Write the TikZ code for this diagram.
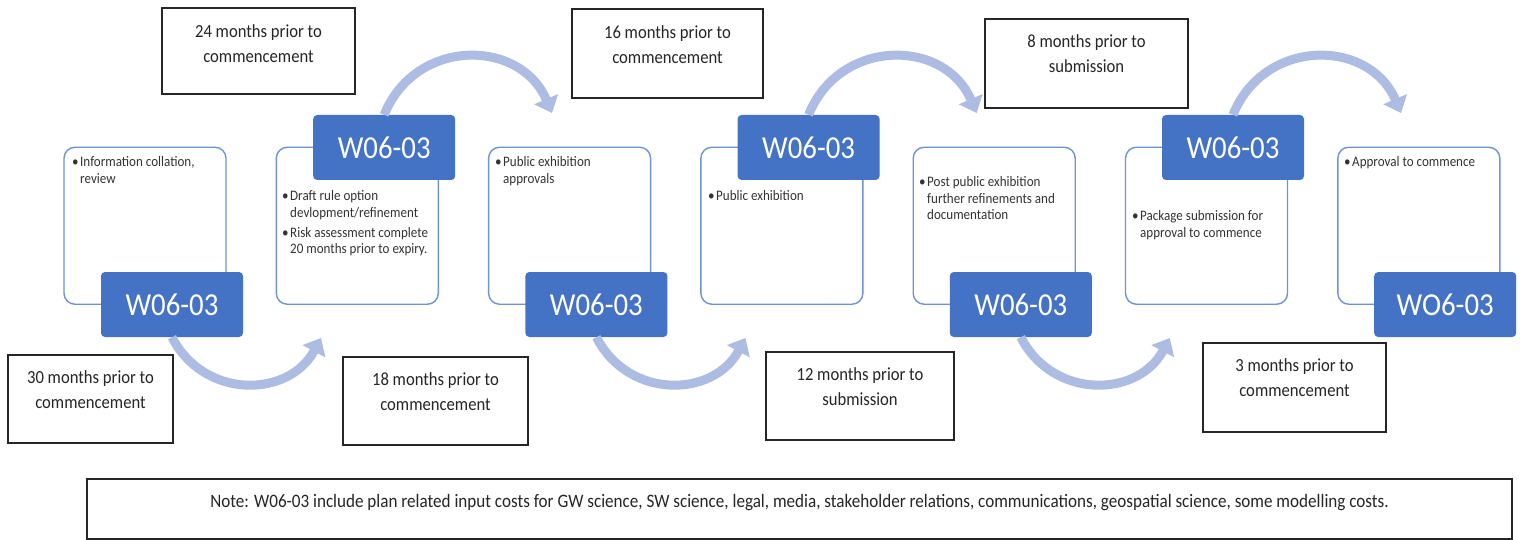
\documentclass[tikz,border=0pt]{standalone}
\usepackage{fontspec}
\setmainfont{Carlito}[FakeStretch=0.9]
\usetikzlibrary{arrows.meta}
\definecolor{wblue}{HTML}{4472C4}
\definecolor{pborder}{HTML}{6F93D3}
\definecolor{arcc}{RGB}{172,188,226}
\definecolor{txtc}{HTML}{333333}
\newcommand{\mytopbox}[4]{\parbox[c][#1][t]{#2}{\centering\vspace*{#3}#4}}
\newcommand{\bul}{\textbullet}
\begin{document}
\begin{tikzpicture}[x=1pt,y=-1pt,
  panel/.style={draw=pborder, line width=1.4pt, fill=white, rounded corners=11pt,
    minimum width=162pt, minimum height=157pt, inner sep=0pt},
  wbox/.style={fill=wblue, rounded corners=4pt, minimum width=142pt, minimum height=65pt,
    inner sep=0pt, text=white, font=\fontsize{32}{32}\selectfont},
  lbox/.style={draw=black!85, line width=1.4pt, inner sep=0pt,
    font=\fontsize{18.5}{25}\selectfont, text=black!85},
  btext/.style={anchor=north west, inner sep=0pt, text=txtc,
    font=\fontsize{14.5}{16.5}\selectfont},
  flow/.style={draw=arcc, line width=9pt, -{Triangle[length=15pt,width=25pt]}},
]
\useasboundingbox (0,0) rectangle (1523,540);
\fill[white] (0,0) rectangle (1523,540);

% panels
\node[panel] (p1) at (145,225.75) {};
\node[panel] (p2) at (357.3,225.75) {};
\node[panel] (p3) at (569.6,225.75) {};
\node[panel] (p4) at (781.9,225.75) {};
\node[panel] (p5) at (994.2,225.75) {};
\node[panel] (p6) at (1206.5,225.75) {};
\node[panel] (p7) at (1418.8,225.75) {};

% panel texts
\node[btext] (t1) at (72,155) {\begin{tabular}{@{}l@{\hspace{1.5pt}}l@{}}\bul&Information collation,\\&review\end{tabular}};
\node[btext] (t2) at (282,189) {\begin{tabular}{@{}l@{\hspace{1.5pt}}l@{}}\bul&Draft rule option\\&devlopment/refinement\\[3.5pt]\bul&Risk assessment complete\\&20 months prior to expiry.\end{tabular}};
\node[btext] (t3) at (495,155) {\begin{tabular}{@{}l@{\hspace{1.5pt}}l@{}}\bul&Public exhibition\\&approvals\end{tabular}};
\node[btext] (t4) at (708,189) {\begin{tabular}{@{}l@{\hspace{1.5pt}}l@{}}\bul&Public exhibition\end{tabular}};
\node[btext] (t5) at (919,175) {\begin{tabular}{@{}l@{\hspace{1.5pt}}l@{}}\bul&Post public exhibition\\&further refinements and\\&documentation\end{tabular}};
\node[btext] (t6) at (1132,209) {\begin{tabular}{@{}l@{\hspace{1.5pt}}l@{}}\bul&Package submission for\\&approval to commence\end{tabular}};
\node[btext] (t7) at (1344,155) {\begin{tabular}{@{}l@{\hspace{1.5pt}}l@{}}\bul&Approval to commence\end{tabular}};

% blue boxes
\node[wbox] (b1) at (172,304.5) {W06-03};
\node[wbox] (b2) at (384.2,147.5) {W06-03};
\node[wbox] (b3) at (596.4,304.5) {W06-03};
\node[wbox] (b4) at (808.6,147.5) {W06-03};
\node[wbox] (b5) at (1020.8,304.5) {W06-03};
\node[wbox] (b6) at (1233,147.5) {W06-03};
\node[wbox] (b7) at (1445.2,304.5) {WO6-03};

% arrow end points
\coordinate (e1) at (321,338);
\coordinate (e2) at (552,113);
\coordinate (e3) at (745.4,338);
\coordinate (e4) at (976.6,113);
\coordinate (e5) at (1169.8,338);
\coordinate (e6) at (1401,113);

% arcs
\draw[flow] (b1.south) .. controls +(32,62.5) and +(-32,60) .. (e1);
\draw[flow] (b2.north) .. controls +(31,-77) and +(-32,-75) .. (e2);
\draw[flow] (b3.south) .. controls +(32,62.5) and +(-32,60) .. (e3);
\draw[flow] (b4.north) .. controls +(31,-77) and +(-32,-75) .. (e4);
\draw[flow] (b5.south) .. controls +(32,62.5) and +(-32,60) .. (e5);
\draw[flow] (b6.north) .. controls +(31,-77) and +(-32,-75) .. (e6);

% label boxes
\node[lbox] (l30) at (90.5,399) {\mytopbox{88pt}{165pt}{15.5pt}{30 months prior to\\commencement}};
\node[lbox] (l24) at (258.5,51) {\mytopbox{86pt}{193pt}{17pt}{24 months prior to\\commencement}};
\node[lbox] (l18) at (435.5,401) {\mytopbox{88pt}{185pt}{15.5pt}{18 months prior to\\commencement}};
\node[lbox] (l16) at (667.5,53.5) {\mytopbox{89pt}{191pt}{17pt}{16 months prior to\\commencement}};
\node[lbox] (l12) at (860,396) {\mytopbox{88pt}{188pt}{15.5pt}{12 months prior to\\submission}};
\node[lbox] (l8) at (1086.5,63.5) {\mytopbox{89pt}{203pt}{16pt}{8 months prior to\\submission}};
\node[lbox] (l3) at (1294.5,387.5) {\mytopbox{89pt}{183pt}{15.5pt}{3 months prior to\\commencement}};

% note
\node[lbox, font=\fontsize{19}{22}\selectfont] (note) at (799.5,509) {\mytopbox{60pt}{1425pt}{15pt}{Note: W06-03 include plan related input costs for GW science, SW science, legal, media, stakeholder relations, communications, geospatial science, some modelling costs.}};
\end{tikzpicture}
\end{document}
